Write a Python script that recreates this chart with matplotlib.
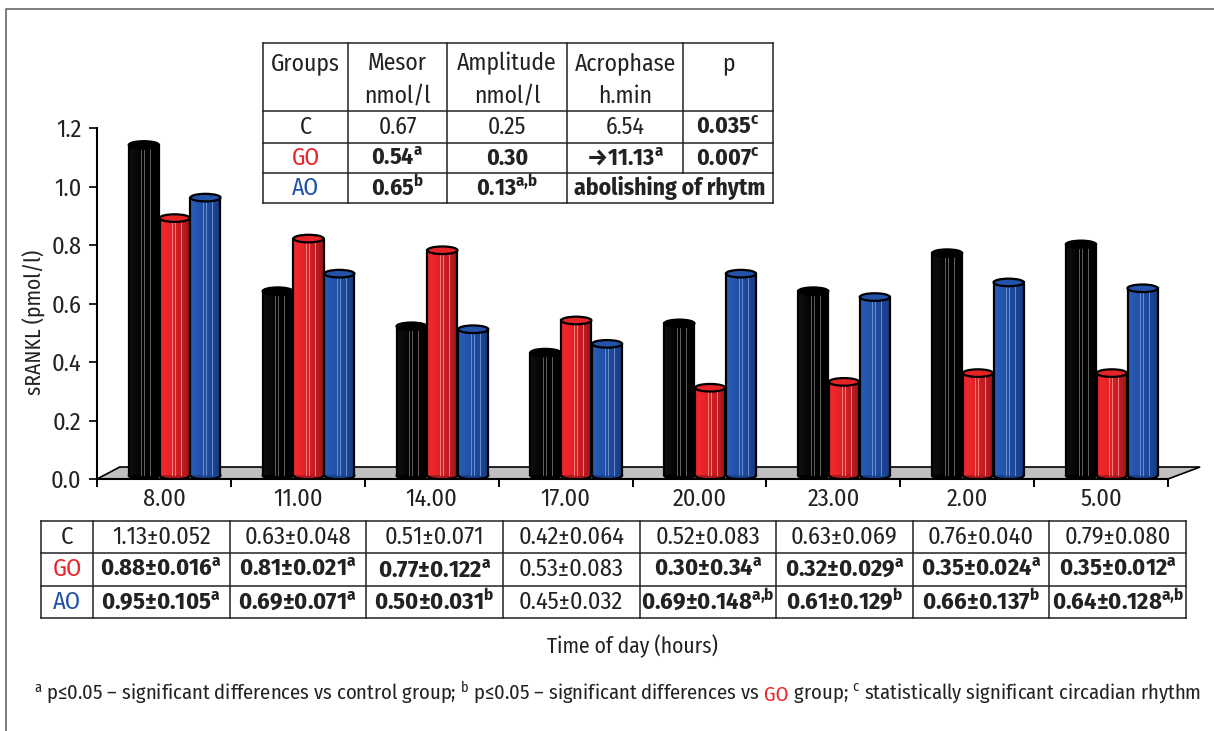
import numpy as np
import matplotlib
matplotlib.use('Agg')
import matplotlib.pyplot as plt
from matplotlib import font_manager
from matplotlib.patches import Ellipse, Polygon, Rectangle
from matplotlib.colors import LinearSegmentedColormap

# pick a condensed sans that has regular and bold (the original uses Myriad Condensed)
weights = {}
for f in font_manager.fontManager.ttflist:
    weights.setdefault(f.name, set()).add(f.weight)
FONT = 'DejaVu Sans'
for name in ['Fira Sans Condensed', 'PT Sans Narrow', 'Roboto Condensed',
             'Archivo Narrow', 'Liberation Sans Narrow']:
    w = weights.get(name, set())
    if (400 in w or 'normal' in w) and (700 in w or 'bold' in w):
        FONT = name
        break

plt.rcParams['font.family'] = [FONT, 'DejaVu Sans']
plt.rcParams['mathtext.fontset'] = 'custom'
plt.rcParams['mathtext.rm'] = FONT
plt.rcParams['mathtext.bf'] = FONT + ':bold'
plt.rcParams['mathtext.it'] = FONT + ':italic'

# ---- data ----
hours = ['8.00', '11.00', '14.00', '17.00', '20.00', '23.00', '2.00', '5.00']
groups = ['C', 'GO', 'AO']
c_mean = [1.13, 0.63, 0.51, 0.42, 0.52, 0.63, 0.76, 0.79]
c_sd = ['0.052', '0.048', '0.071', '0.064', '0.083', '0.069', '0.040', '0.080']
c_sup = ['', '', '', '', '', '', '', '']
go_mean = [0.88, 0.81, 0.77, 0.53, 0.30, 0.32, 0.35, 0.35]
go_sd = ['0.016', '0.021', '0.122', '0.083', '0.34', '0.029', '0.024', '0.012']
go_sup = ['a', 'a', 'a', '', 'a', 'a', 'a', 'a']
ao_mean = [0.95, 0.69, 0.50, 0.45, 0.69, 0.61, 0.66, 0.64]
ao_sd = ['0.105', '0.071', '0.031', '0.032', '0.148', '0.129', '0.137', '0.128']
ao_sup = ['a', 'a', 'b', '', 'a{,}b', 'b', 'b', 'a{,}b']

# cosinor table
cos_header = [['Groups', ''], ['Mesor', 'nmol/l'], ['Amplitude', 'nmol/l'],
              ['Acrophase', 'h.min'], ['p', '']]
cos_c = ['0.67', '0.25', '6.54', '0.035$^{\\mathbf{c}}$']
cos_go = ['0.54$^{\\mathbf{a}}$', '0.30', '\u219211.13$^{\\mathbf{a}}$', '0.007$^{\\mathbf{c}}$']
cos_ao = ['0.65$^{\\mathbf{b}}$', '0.13$^{\\mathbf{a{,}b}}$', 'abolishing of rhytm']

RED = '#e8262b'
BLUE = '#2152a6'
group_colors = ['black', RED, BLUE]
FS = 17.5
FS_IN = 17

fig = plt.figure(figsize=(12.14, 7.31), dpi=100)
W, H = 1214, 731
ax = fig.add_axes([97 / W, 1 - 479 / H, (1168 - 97) / W, (479 - 128) / H])

# floor of the pseudo-3D chart
floor = Polygon([(0, 0), (8, 0), (8.24, 0.041), (0.17, 0.041)], closed=True,
                facecolor='#c0c0c0', edgecolor='black', lw=1.2, zorder=1, clip_on=False)
ax.add_patch(floor)

cmaps = [
    LinearSegmentedColormap.from_list('c', ['#101010', '#000000', '#000000']),
    LinearSegmentedColormap.from_list('go', ['#f22b2d', '#e82226', '#c41d22', '#9e161b']),
    LinearSegmentedColormap.from_list('ao', ['#2b5cb6', '#2253ab', '#1d4797', '#173a80']),
]
caps = ['#000000', '#e52428', '#2352a8']
bottoms = ['#000000', '#b01a1f', '#1a418c']
hl_colors = ['#7a7a7a', '#ff9a9a', '#7f9fd8']
offsets = [0.35, 0.58, 0.81]
bw = 0.225
base = 0.012
cap_h = 0.026
grad = np.linspace(0, 1, 128).reshape(1, -1)

for s, vals in enumerate([c_mean, go_mean, ao_mean]):
    xs = np.arange(len(hours)) + offsets[s]
    z = 2 + s
    bars = ax.bar(xs, vals, width=bw, bottom=base, color=caps[s], linewidth=0, zorder=z)
    for bar, xc, v in zip(bars, xs, vals):
        x0, x1 = xc - bw / 2, xc + bw / 2
        top = base + v
        ax.add_patch(Ellipse((xc, base), bw, cap_h, facecolor=bottoms[s],
                             edgecolor='black', lw=1.6, zorder=z - 0.05))
        im = ax.imshow(grad, cmap=cmaps[s], extent=[x0, x1, base, top], aspect='auto',
                       interpolation='bicubic', zorder=z + 0.1)
        im.set_clip_path(bar)
        for f in (0.42, 0.52, 0.72):
            ax.plot([x0 + f * bw] * 2, [base, top], color=hl_colors[s], lw=0.7,
                    alpha=0.8, zorder=z + 0.15)
        ax.plot([x0, x0], [base, top], color='black', lw=1.6, zorder=z + 0.2)
        ax.plot([x1, x1], [base, top], color='black', lw=1.6, zorder=z + 0.2)
        ax.add_patch(Ellipse((xc, top), bw, cap_h, facecolor=caps[s],
                             edgecolor='black', lw=1.6, zorder=z + 0.3))

ax.set_xlim(0, 8)
ax.set_ylim(0, 1.2)
ax.spines['top'].set_visible(False)
ax.spines['right'].set_visible(False)
ax.spines['left'].set_linewidth(1.5)
ax.spines['bottom'].set_linewidth(1.5)
ax.spines['bottom'].set_zorder(10)
ax.set_yticks(np.arange(0, 1.21, 0.2))
ax.set_yticklabels([f'{t:.1f}' for t in np.arange(0, 1.21, 0.2)])
ax.tick_params(axis='y', length=6, width=1.4, labelsize=FS, pad=5, colors='#222222')
ax.set_xticks(range(len(hours) + 1))
ax.set_xticklabels([])
ax.set_xticks(np.arange(len(hours)) + 0.5, minor=True)
ax.set_xticklabels(hours, minor=True)
ax.tick_params(axis='x', which='major', length=6, width=1.4)
ax.tick_params(axis='x', which='minor', length=0, labelsize=FS, pad=6, labelcolor='#222222')
ax.set_ylabel('sRANKL (pmol/l)', fontsize=15.5, color='#222222')
ax.yaxis.set_label_coords(-0.048, 0.447)

# overlay in pixel coordinates for the tables and notes
ov = fig.add_axes([0, 0, 1, 1], zorder=5)
ov.set_xlim(0, W)
ov.set_ylim(H, 0)
ov.axis('off')
ov.patch.set_visible(False)

# outer frame
ov.plot([6, 6, W], [H, 9, 9], color='#666666', lw=1.2)

TXT = '#222222'
lw_t = 1.1
# ---- cosinor table (inset) ----
cx = [263, 348, 447, 567, 683, 773]
cy = [43, 111, 143, 173, 203]
ov.add_patch(Rectangle((cx[0], cy[0]), cx[-1] - cx[0], cy[-1] - cy[0], facecolor='white',
                       edgecolor='none'))
for y in cy:
    ov.plot([cx[0], cx[-1]], [y, y], color=TXT, lw=lw_t)
for i, x in enumerate(cx):
    yb = cy[3] if i == 4 else cy[-1]
    ov.plot([x, x], [cy[0], yb], color=TXT, lw=lw_t)
ccent = [(cx[i] + cx[i + 1]) / 2 for i in range(5)]
for i, (l1, l2) in enumerate(cos_header):
    ov.text(ccent[i], 63, l1, ha='center', va='center', fontsize=FS_IN, color=TXT)
    if l2:
        ov.text(ccent[i], 96, l2, ha='center', va='center', fontsize=FS_IN, color=TXT)
rows_y = [(cy[1] + cy[2]) / 2, (cy[2] + cy[3]) / 2, (cy[3] + cy[4]) / 2]
for r, (g, col) in enumerate(zip(groups, group_colors)):
    ov.text(ccent[0], rows_y[r], g, ha='center', va='center', fontsize=FS_IN,
            color=TXT if col == 'black' else col)
for j, t in enumerate(cos_c):
    ov.text(ccent[j + 1], rows_y[0], t, ha='center', va='center', fontsize=FS_IN, color=TXT,
            weight='bold' if j == 3 else 'normal')
for j, t in enumerate(cos_go):
    ov.text(ccent[j + 1], rows_y[1], t, ha='center', va='center', fontsize=FS_IN, color=TXT,
            weight='bold')
ov.text(ccent[1], rows_y[2], cos_ao[0], ha='center', va='center', fontsize=FS_IN, color=TXT, weight='bold')
ov.text(ccent[2], rows_y[2], cos_ao[1], ha='center', va='center', fontsize=FS_IN, color=TXT, weight='bold')
ov.text((cx[3] + cx[5]) / 2, rows_y[2], cos_ao[2], ha='center', va='center', fontsize=FS_IN,
        color=TXT, weight='bold')

# ---- data table below the chart ----
tx = [41, 93] + [93 + (1186 - 93) * (i + 1) / 8 for i in range(8)]
ty = [521, 553, 586, 618]
for y in ty:
    ov.plot([tx[0], tx[-1]], [y, y], color=TXT, lw=lw_t)
for x in tx:
    ov.plot([x, x], [ty[0], ty[-1]], color=TXT, lw=lw_t)
row_data = [(c_mean, c_sd, c_sup), (go_mean, go_sd, go_sup), (ao_mean, ao_sd, ao_sup)]
for r, (means, sds, sups) in enumerate(row_data):
    yc = (ty[r] + ty[r + 1]) / 2
    ov.text((tx[0] + tx[1]) / 2, yc, groups[r], ha='center', va='center', fontsize=FS,
            color=TXT if r == 0 else group_colors[r])
    for j in range(len(hours)):
        s = f'{means[j]:.2f}\u00b1{sds[j]}'
        if sups[j]:
            s += '$^{\\mathbf{' + sups[j] + '}}$'
        ov.text((tx[j + 1] + tx[j + 2]) / 2, yc, s, ha='center', va='center', fontsize=FS,
                color=TXT, weight='bold' if sups[j] else 'normal')

ov.text(632, 646, 'Time of day (hours)', ha='center', va='center', fontsize=15.5, color=TXT)

# footnote with coloured group name
t1 = ov.text(34, 692, '$^{\\mathrm{a}}$ p\u22640.05 \u2013 significant differences vs control group; '
             '$^{\\mathrm{b}}$ p\u22640.05 \u2013 significant differences vs',
             ha='left', va='center', fontsize=14.8, color=TXT)
t2 = ov.annotate(' GO', xycoords=t1, xy=(1, 0), va='bottom', fontsize=14.8, color=RED)
ov.annotate(' group; $^{\\mathrm{c}}$ statistically significant circadian rhythm', xycoords=t2,
            xy=(1, 0), va='bottom', fontsize=14.8, color=TXT)

fig.savefig('out.png', dpi=100)
